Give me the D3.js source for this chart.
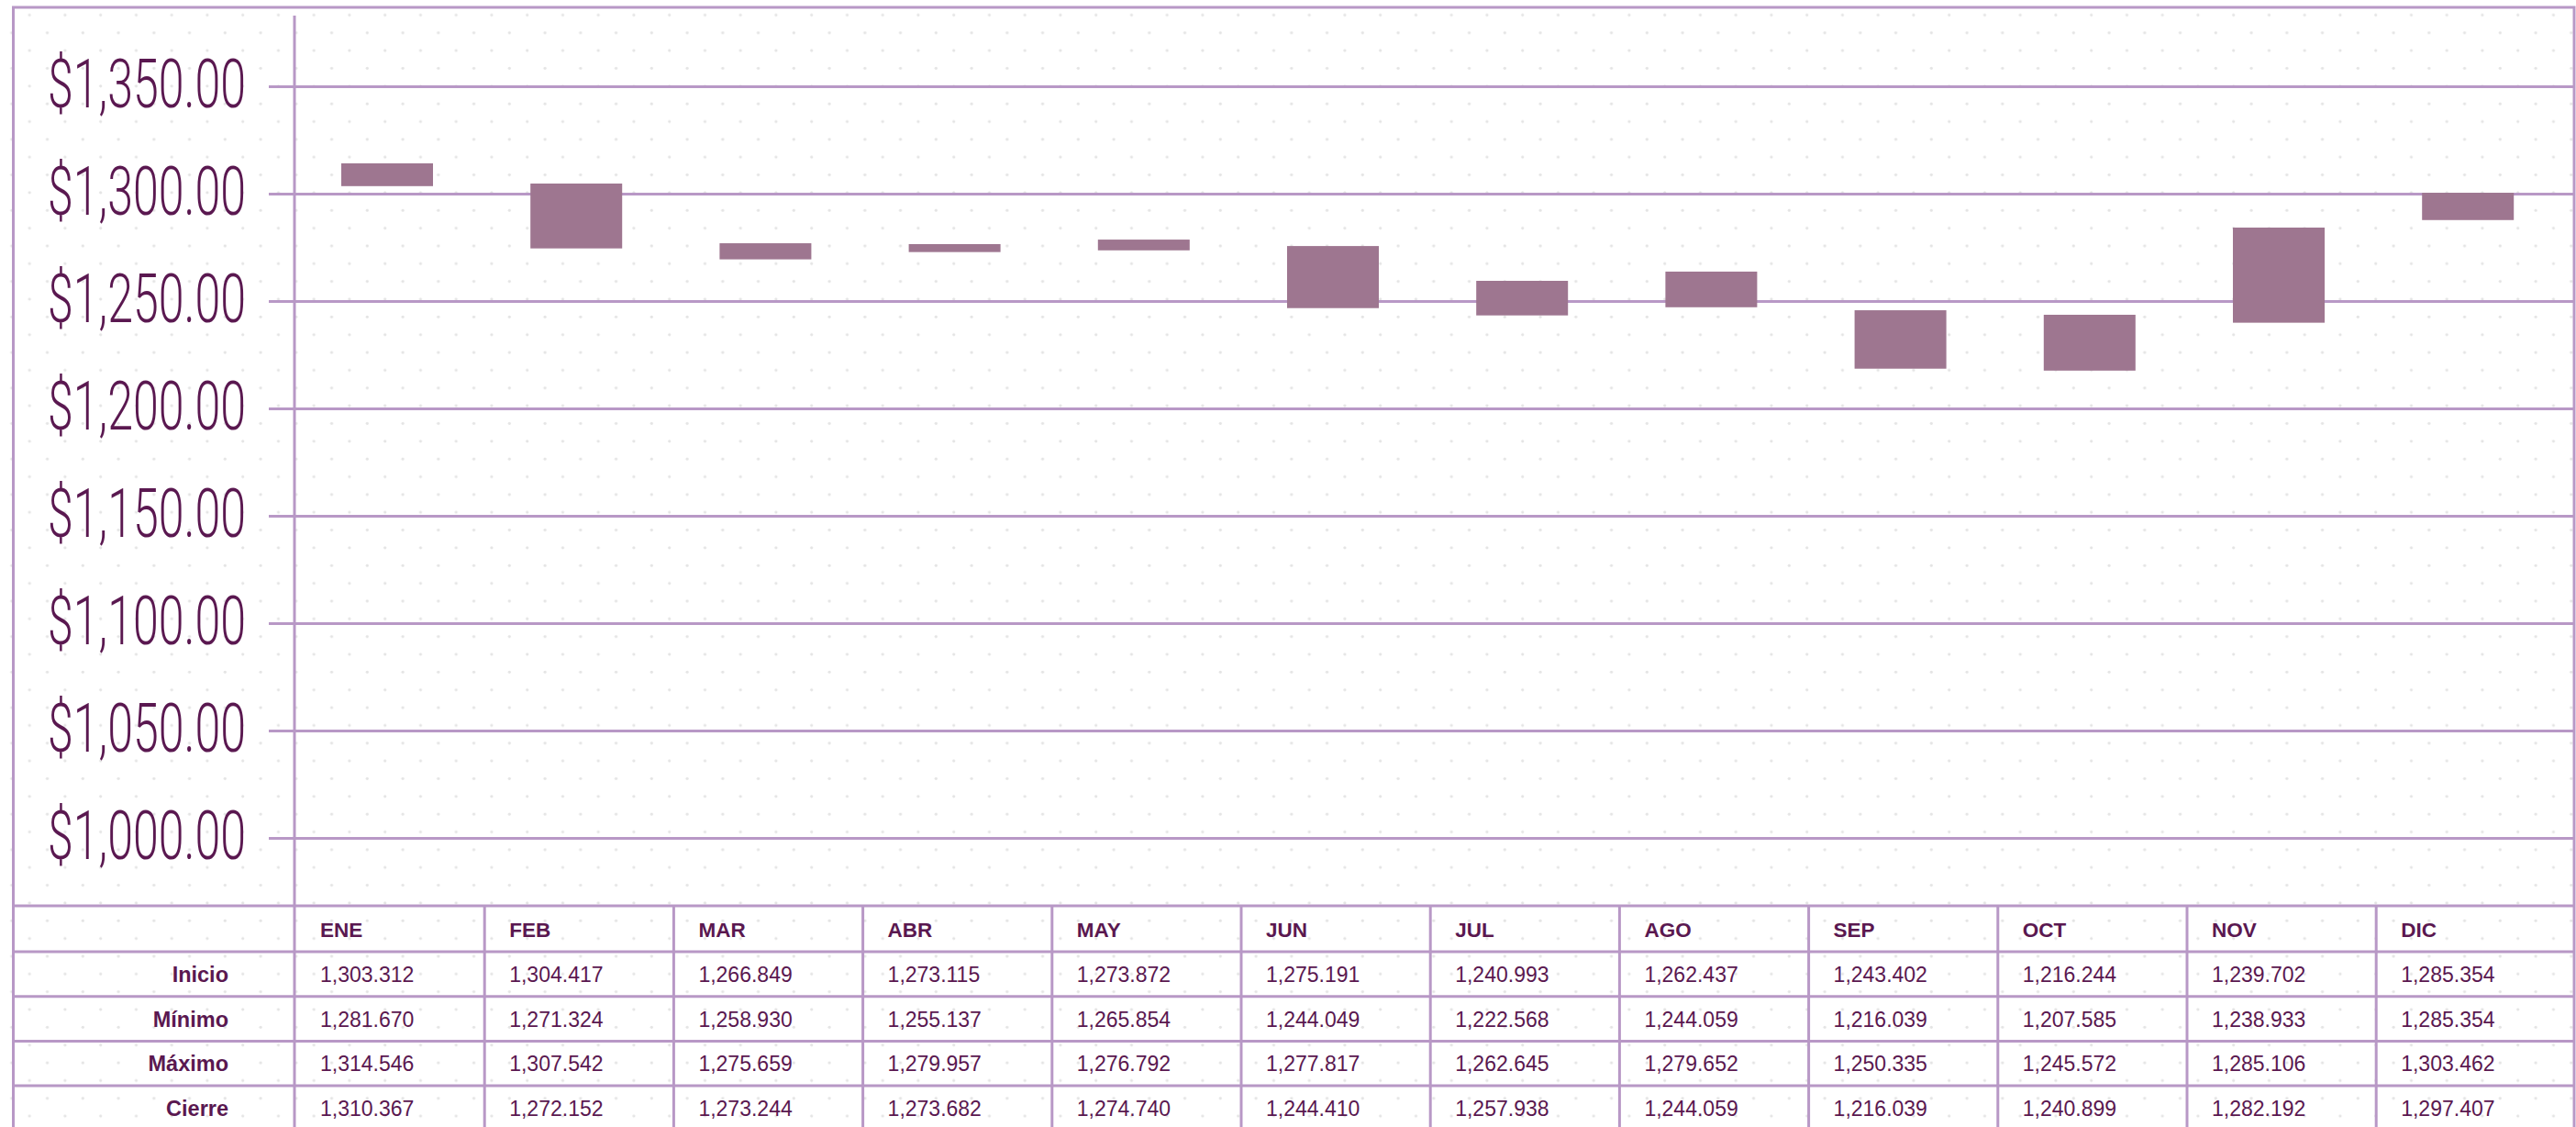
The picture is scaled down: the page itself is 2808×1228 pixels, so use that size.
<!DOCTYPE html>
<html>
<head>
<meta charset="utf-8">
<script src="https://cdn.jsdelivr.net/npm/d3@7"></script>
<style>
  html, body { margin: 0; padding: 0; background: #ffffff; }
  svg { display: block; }
</style>
</head>
<body>
<script>
// ---------------- DATA ----------------
const months = ["ENE", "FEB", "MAR", "ABR", "MAY", "JUN", "JUL", "AGO", "SEP", "OCT", "NOV", "DIC"];
const rowLabels = ["Inicio", "Mínimo", "Máximo", "Cierre"];

// table values
const inicio = [1303.312, 1304.417, 1266.849, 1273.115, 1273.872, 1275.191, 1240.993, 1262.437, 1243.402, 1216.244, 1239.702, 1285.354];
const minimo = [1281.670, 1271.324, 1258.930, 1255.137, 1265.854, 1244.049, 1222.568, 1244.059, 1216.039, 1207.585, 1238.933, 1285.354];
const maximo = [1314.546, 1307.542, 1275.659, 1279.957, 1276.792, 1277.817, 1262.645, 1279.652, 1250.335, 1245.572, 1285.106, 1303.462];
const cierre = [1310.367, 1272.152, 1273.244, 1273.682, 1274.740, 1244.410, 1257.938, 1244.059, 1216.039, 1240.899, 1282.192, 1297.407];

// candle bodies as drawn in the chart
const candleOpen  = [1303.5, 1304.7, 1269.4, 1272.8, 1273.6, 1275.6, 1243.3, 1263.7, 1245.7, 1217.6, 1239.9, 1287.7];
const candleClose = [1314.1, 1274.5, 1276.9, 1276.5, 1278.6, 1246.7, 1259.4, 1247.1, 1218.5, 1243.6, 1284.2, 1300.4];

const yTicks = [1000, 1050, 1100, 1150, 1200, 1250, 1300, 1350];

// ---------------- STYLE / LAYOUT ----------------
const W = 2808, H = 1228;
const lineColor = "#b898c6";
const candleColor = "#9e7690";
const textColor = "#5a1850";
const axisX = 321;
const colW = 206.2;
const rightEdge = 2806;
const tableTop = 987;
const headerH = 50;
const rowH = 48.7;

const svg = d3.select("body").append("svg")
  .attr("width", W).attr("height", H)
  .attr("viewBox", `0 0 ${W} ${H}`);

// dotted background
const defs = svg.append("defs");
const pat = defs.append("pattern")
  .attr("id", "dots")
  .attr("patternUnits", "userSpaceOnUse")
  .attr("x", 32.2 - 9.7).attr("y", 16.3 - 9.7)
  .attr("width", 38.75).attr("height", 38.7);
pat.append("circle").attr("cx", 9.7).attr("cy", 9.7).attr("r", 1.6).attr("fill", "#e4e4e4");
pat.append("circle").attr("cx", 9.7 + 19.375).attr("cy", 9.7 + 19.35).attr("r", 1.6).attr("fill", "#e4e4e4");
svg.append("rect").attr("width", W).attr("height", H).attr("fill", "url(#dots)");

// scales
const x = d3.scaleBand().domain(months).range([322, 322 + 12 * colW]).padding(0);
const y = d3.scaleLinear().domain([1000, 1350]).range([913, 94]);

// gridlines + y labels through an axis
const yAxis = d3.axisLeft(y)
  .tickValues(yTicks)
  .tickSizeInner(-(rightEdge - axisX))
  .tickSizeOuter(0)
  .tickFormat(d3.format("$,.2f"));

const gy = svg.append("g").attr("transform", `translate(${axisX},0)`).call(yAxis);
gy.select(".domain").remove();
gy.selectAll(".tick line")
  .attr("x1", -28)
  .attr("stroke", lineColor)
  .attr("stroke-width", 3);

const labels = gy.selectAll(".tick text")
  .attr("x", 0).attr("dy", null)
  .attr("fill", textColor)
  .attr("text-anchor", "end")
  .style("font-family", "Roboto, 'Liberation Sans', sans-serif")
  .style("font-weight", 300)
  .style("font-size", "74px");
labels.each(function () {
  const len = this.getComputedTextLength();
  const sx = 216 / len;
  d3.select(this).attr("transform", `translate(-53,22.5) scale(${sx},1)`);
});

// candles
svg.append("g").selectAll("rect")
  .data(months)
  .join("rect")
  .attr("x", d => x(d) + 50)
  .attr("width", 100)
  .attr("y", (d, i) => y(Math.max(candleOpen[i], candleClose[i])))
  .attr("height", (d, i) => Math.abs(y(candleOpen[i]) - y(candleClose[i])))
  .attr("fill", candleColor);

// vertical axis line
svg.append("line")
  .attr("x1", axisX).attr("x2", axisX)
  .attr("y1", 17).attr("y2", H + 10)
  .attr("stroke", lineColor).attr("stroke-width", 3);

// ---------------- TABLE ----------------
const rowsData = [inicio, minimo, maximo, cierre];
const tbl = svg.append("g");
const hLines = [tableTop, tableTop + headerH];
for (let r = 1; r <= rowLabels.length; r++) hLines.push(tableTop + headerH + r * rowH);
tbl.selectAll("line.h").data(hLines).join("line")
  .attr("class", "h")
  .attr("x1", 14.5).attr("x2", rightEdge)
  .attr("y1", d => d).attr("y2", d => d)
  .attr("stroke", lineColor).attr("stroke-width", 3);
tbl.selectAll("line.v").data(months.slice(1)).join("line")
  .attr("class", "v")
  .attr("x1", d => x(d)).attr("x2", d => x(d))
  .attr("y1", tableTop).attr("y2", H + 10)
  .attr("stroke", lineColor).attr("stroke-width", 3);

const tableFont = "'Liberation Sans', Arial, Helvetica, sans-serif";
tbl.selectAll("text.head").data(months).join("text")
  .attr("class", "head")
  .attr("x", d => x(d) + 27)
  .attr("y", tableTop + headerH / 2 + 8.5)
  .attr("fill", textColor)
  .style("font-family", tableFont).style("font-weight", 700).style("font-size", "22.5px")
  .text(d => d);

const fmt = d3.format(",.3f");
rowLabels.forEach((lab, r) => {
  const cy = tableTop + headerH + r * rowH + rowH / 2;
  tbl.append("text")
    .attr("x", 249).attr("y", cy + 8.5)
    .attr("text-anchor", "end")
    .attr("fill", textColor)
    .style("font-family", tableFont).style("font-weight", 700).style("font-size", "23.5px")
    .text(lab);
  tbl.append("g").selectAll("text").data(rowsData[r]).join("text")
    .attr("x", (d, i) => x(months[i]) + 27)
    .attr("y", cy + 8.5)
    .attr("fill", textColor)
    .style("font-family", tableFont).style("font-size", "23px")
    .text(d => fmt(d));
});

// outer frame
svg.append("rect")
  .attr("x", 14.5).attr("y", 8)
  .attr("width", rightEdge - 14.5).attr("height", H + 20)
  .attr("fill", "none")
  .attr("stroke", lineColor).attr("stroke-width", 3);
</script>
</body>
</html>
